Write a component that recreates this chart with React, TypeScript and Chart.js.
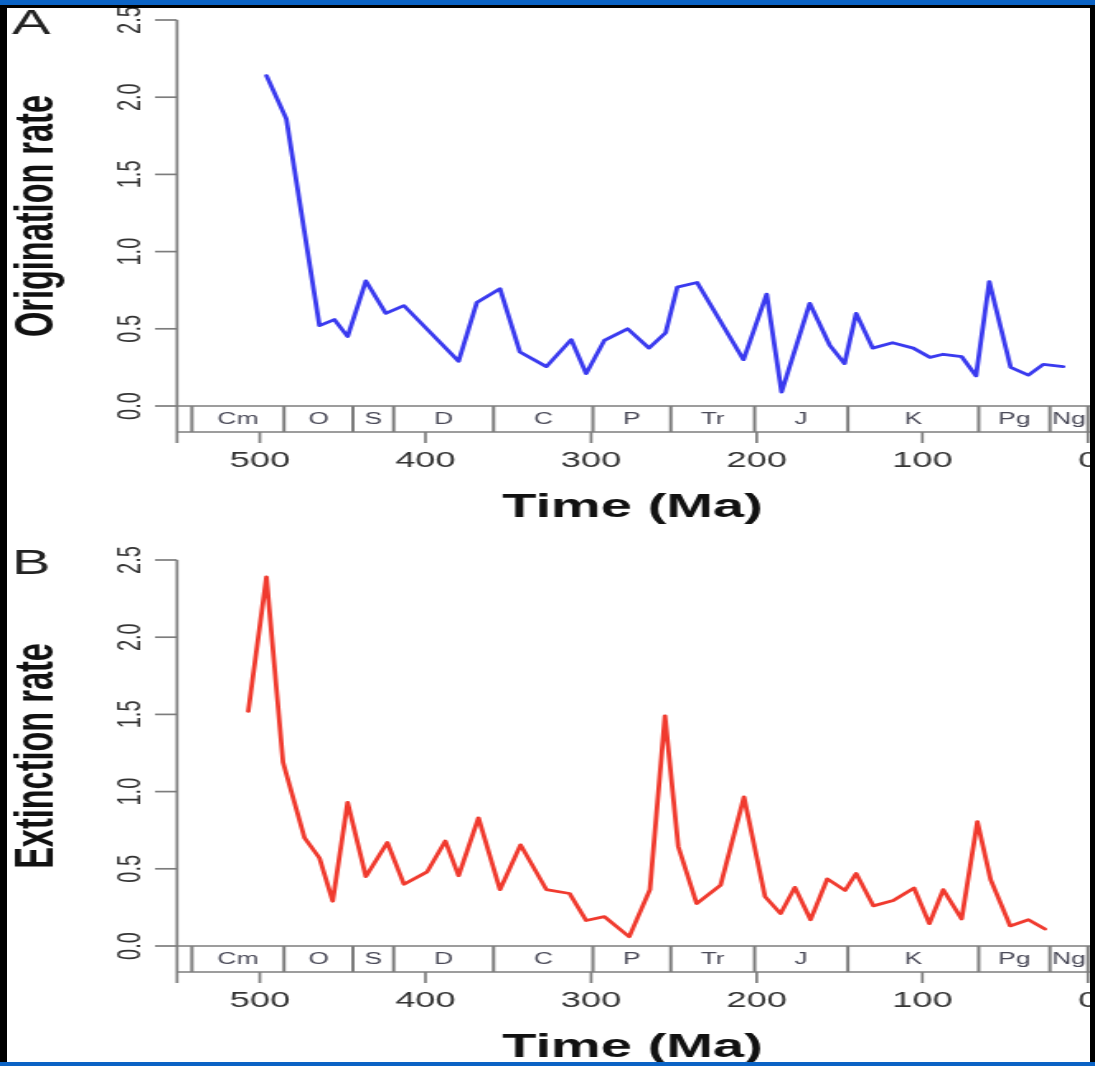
import React, { useEffect, useRef } from "react";
import { Chart, registerables } from "chart.js";

Chart.register(...registerables);

// ---------- data ----------
const ORIG_AGES = [496, 484, 464, 455, 447, 436, 424, 413, 380, 369, 355, 343, 327, 312, 303, 292, 278, 265, 255, 248, 236, 208, 194, 185, 168, 156, 147, 140, 130, 118, 105.5, 95.4, 87.4, 76.3, 67.6, 59.6, 46.7, 36, 27, 15];
const ORIG_RATE = [2.14, 1.86, 0.52, 0.56, 0.45, 0.81, 0.6, 0.65, 0.29, 0.67, 0.76, 0.35, 0.255, 0.43, 0.21, 0.425, 0.5, 0.375, 0.475, 0.77, 0.8, 0.3, 0.725, 0.09, 0.665, 0.395, 0.275, 0.6, 0.375, 0.41, 0.375, 0.315, 0.335, 0.32, 0.195, 0.805, 0.25, 0.2, 0.27, 0.255];

const EXT_AGES = [507, 496, 486, 473, 464, 456, 447, 436, 423, 413, 399, 388, 380, 368, 355, 342.6, 327, 313, 303, 292, 277, 264.5, 255.4, 247.4, 236.3, 221.8, 207.7, 195, 185.6, 177, 167.5, 157.4, 146.7, 140, 129.6, 117.6, 105, 95.8, 87.4, 76.3, 66.8, 58.8, 47, 36, 26];
const EXT_RATE = [1.52, 2.39, 1.19, 0.7, 0.57, 0.29, 0.93, 0.45, 0.67, 0.4, 0.48, 0.68, 0.455, 0.83, 0.365, 0.655, 0.365, 0.34, 0.165, 0.19, 0.06, 0.365, 1.49, 0.645, 0.275, 0.395, 0.965, 0.32, 0.21, 0.38, 0.17, 0.435, 0.36, 0.47, 0.26, 0.295, 0.375, 0.145, 0.365, 0.175, 0.805, 0.43, 0.13, 0.17, 0.11];

const PERIOD_BOUNDS = [541, 485.4, 443.8, 419.2, 358.9, 298.9, 251.9, 201.3, 145, 66, 23, 0];
const PERIOD_LABELS = ["Cm", "O", "S", "D", "C", "P", "Tr", "J", "K", "Pg", "Ng"];

const X_TICKS = [500, 400, 300, 200, 100, 0];
const Y_TICKS = [0, 0.5, 1, 1.5, 2, 2.5];
const Y_TICK_LABELS = ["0.0", "0.5", "1.0", "1.5", "2.0", "2.5"];

const X_MIN = 0;
const X_MAX = 550;
const Y_MIN = 0;
const Y_MAX = 2.5;

// ---------- layout ----------
const CSS_W = 1095;
const INT_W = 664; // internal canvas width; stretched horizontally by CSS
const PANEL_H = 540;
const K = CSS_W / INT_W;
const px = (v: number) => v / K;
const FONT = "'Liberation Sans', Arial, Helvetica, sans-serif";
const AXIS_COLOR = "#7d7d7d";

const geoAxes = {
  id: "geoAxes",
  afterDraw(chart: any) {
    const { ctx, chartArea: a, scales } = chart;
    const xs = scales.x;
    const ys = scales.y;
    const o = chart.options.plugins.geoAxes;
    const boxBottom = a.bottom + 26;
    const tickEnd = boxBottom + 11;
    const rightEdge = chart.width;
    const line = (x1: number, y1: number, x2: number, y2: number) => {
      ctx.beginPath();
      ctx.moveTo(x1, y1);
      ctx.lineTo(x2, y2);
      ctx.stroke();
    };
    ctx.save();
    ctx.strokeStyle = AXIS_COLOR;
    ctx.lineWidth = 1.7;
    ctx.lineCap = "butt";
    // y axis
    line(a.left, ys.getPixelForValue(Y_MAX), a.left, tickEnd);
    Y_TICKS.forEach((v) => {
      const yy = ys.getPixelForValue(v);
      line(a.left - px(22), yy, a.left, yy);
    });
    // time scale box
    line(a.left, a.bottom, rightEdge, a.bottom);
    line(a.left, boxBottom, rightEdge, boxBottom);
    ctx.lineWidth = 2;
    PERIOD_BOUNDS.forEach((b) => {
      const xx = xs.getPixelForValue(b);
      line(xx, a.bottom, xx, boxBottom);
    });
    ctx.lineWidth = 1.7;
    X_TICKS.forEach((t) => {
      const xx = xs.getPixelForValue(t);
      line(xx, boxBottom, xx, tickEnd);
    });

    // period labels
    ctx.fillStyle = "#4a4a58";
    ctx.font = `16px ${FONT}`;
    ctx.textAlign = "center";
    ctx.textBaseline = "middle";
    PERIOD_LABELS.forEach((lab, i) => {
      const x1 = xs.getPixelForValue(PERIOD_BOUNDS[i]);
      const x2 = xs.getPixelForValue(PERIOD_BOUNDS[i + 1]);
      ctx.fillText(lab, (x1 + x2) / 2, (a.bottom + boxBottom) / 2 + 1);
    });

    // x tick labels
    ctx.fillStyle = "#333";
    ctx.font = `22px ${FONT}`;
    ctx.textBaseline = "alphabetic";
    X_TICKS.forEach((t) => {
      ctx.fillText(String(t), xs.getPixelForValue(t), 467);
    });

    // x title
    ctx.fillStyle = "#111";
    ctx.font = `bold 34px ${FONT}`;
    ctx.fillText("Time (Ma)", (a.left + a.right) / 2, 517);

    // y tick labels (rotated)
    ctx.fillStyle = "#333";
    ctx.font = `20px ${FONT}`;
    ctx.textBaseline = "middle";
    Y_TICKS.forEach((v, i) => {
      ctx.save();
      ctx.translate(px(131), ys.getPixelForValue(v));
      ctx.rotate(-Math.PI / 2);
      ctx.fillText(Y_TICK_LABELS[i], 0, 0);
      ctx.restore();
    });

    // y title
    ctx.fillStyle = "#111";
    ctx.font = `bold 32.5px ${FONT}`;
    ctx.textBaseline = "alphabetic";
    ctx.save();
    ctx.translate(px(53), 216);
    ctx.rotate(-Math.PI / 2);
    ctx.fillText(o.ylabel, 0, 0);
    ctx.restore();

    // panel letter
    ctx.fillStyle = "#222";
    ctx.font = `35px ${FONT}`;
    ctx.textAlign = "left";
    ctx.fillText(o.letter, px(12), 34);
    ctx.restore();
  },
};

function Panel(props: { top: number; letter: string; ylabel: string; ages: number[]; rates: number[]; color: string }) {
  const ref = useRef<HTMLCanvasElement | null>(null);
  useEffect(() => {
    if (!ref.current) return;
    const chart = new Chart(ref.current, {
      type: "line",
      data: {
        datasets: [
          {
            data: props.ages.map((a, i) => ({ x: a, y: props.rates[i] })),
            borderColor: props.color,
            borderWidth: 2.8,
            pointRadius: 0,
            tension: 0,
            borderJoinStyle: "round",
            borderCapStyle: "round",
            fill: false,
          },
        ],
      },
      options: {
        animation: false,
        responsive: false,
        devicePixelRatio: 1,
        events: [],
        layout: { padding: { left: px(177), right: INT_W - px(1088), top: 20, bottom: PANEL_H - 406 } },
        scales: {
          x: { type: "linear", min: X_MIN, max: X_MAX, reverse: true, display: false },
          y: { type: "linear", min: Y_MIN, max: Y_MAX, display: false },
        },
        plugins: {
          legend: { display: false },
          tooltip: { enabled: false },
          geoAxes: { ylabel: props.ylabel, letter: props.letter },
        } as any,
      },
      plugins: [geoAxes],
    } as any);
    return () => chart.destroy();
  }, []);
  return (
    <canvas
      ref={ref}
      width={INT_W}
      height={PANEL_H}
      style={{ position: "absolute", left: -7, top: props.top - 8, width: CSS_W, height: PANEL_H }}
    />
  );
}

export default function App() {
  return (
    <div style={{ position: "fixed", left: 0, top: 0, width: 1095, height: 1066, background: "#0b63c5", overflow: "hidden" }}>
      <div style={{ position: "absolute", left: 0, top: 5, width: 1095, height: 1057, background: "#000" }} />
      <div style={{ position: "absolute", left: 7, top: 8, width: 1083, height: 1054, background: "#fff", overflow: "hidden" }}>
        <Panel top={0} letter="A" ylabel="Origination rate" ages={ORIG_AGES} rates={ORIG_RATE} color="#3a3aef" />
        <Panel top={540} letter="B" ylabel="Extinction rate" ages={EXT_AGES} rates={EXT_RATE} color="#f03a2e" />
      </div>
    </div>
  );
}
